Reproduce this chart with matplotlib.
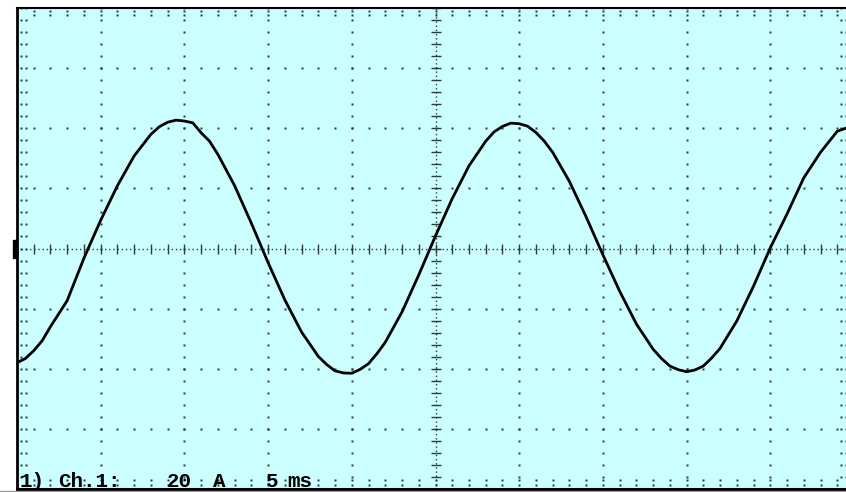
import matplotlib.pyplot as plt
import numpy as np
from matplotlib.patches import Rectangle
from matplotlib.lines import Line2D

# trace (ms, A); denser around the peaks
time_ms = [0, 0.5, 1, 1.5, 2, 3, 4, 5, 6, 7,
           8, 8.5, 9, 9.5, 10, 10.5, 11, 11.5, 12, 13,
           14, 15, 16, 17, 18, 18.5, 19, 19.5, 20, 20.5,
           21, 21.5, 22, 23, 24, 25, 26, 27, 28, 28.5,
           29, 29.5, 30, 30.5, 31, 31.5, 32, 33, 34, 35,
           36, 37, 38, 38.5, 39, 39.5, 40, 40.5, 41, 41.5,
           42, 43, 44, 45, 46, 47, 48, 49, 50]
current_a = [-38.0, -36.6, -34.0, -30.7, -26.0, -17.3, -3.2, 9.4, 20.9, 30.8,
             38.0, 40.5, 42.0, 42.7, 42.4, 41.8, 38.5, 35.7, 31.3, 20.9,
             8.4, -4.7, -17.1, -27.8, -35.9, -38.6, -40.7, -41.4, -41.5, -40.2,
             -38.3, -35.0, -31.2, -21.1, -8.8, 4.2, 16.6, 27.5, 35.7, 38.8,
             40.6, 41.7, 41.5, 40.7, 38.6, 35.7, 32.0, 22.3, 10.5, -2.1,
             -14.2, -25.1, -33.5, -36.6, -39.1, -40.3, -41.0, -40.4, -39.1, -36.4,
             -33.2, -24.1, -12.5, 0.2, 11.5, 23.5, 32.0, 39.0, 41.0]

# screen settings: 5 ms/div x 10, 20 A/div x 8
ms_per_div = 5
amp_per_div = 20
n_div_x = 10
n_div_y = 8

# status line pieces
label_parts = ["1)", "Ch.1:", "20", "A", "5", "ms"]
label_x = [0.18, 2.45, 8.96, 11.7, 14.87, 16.13]

t_max = ms_per_div * n_div_x
a_max = amp_per_div * n_div_y / 2

fig = plt.figure(figsize=(8.46, 4.92), dpi=100)
fig.patch.set_facecolor('white')
ax = fig.add_axes([17 / 846, 3 / 492, 837 / 846, 481 / 492])
ax.set_facecolor('#ccffff')
ax.set_xlim(0, t_max)
ax.set_ylim(-a_max, a_max)
ax.set_xticks([])
ax.set_yticks([])
ax.spines['left'].set_linewidth(2.0)
ax.spines['top'].set_linewidth(1.5)
ax.spines['bottom'].set_linewidth(2.2)

xs_minor = np.arange(0, t_max + 0.01, ms_per_div / 5)
ys_minor = np.arange(-a_max, a_max + 0.01, amp_per_div / 5)
dcol = '#2a3c3c'
dot = dict(ls='none', marker='s', ms=2, color=dcol, mec='none', zorder=2)

# dotted graticule
for gx in np.arange(ms_per_div, t_max, ms_per_div):
    if gx == t_max / 2:
        continue
    ax.plot(np.full_like(ys_minor, gx), ys_minor, **dot)
for gy in np.arange(-a_max + amp_per_div, a_max, amp_per_div):
    if gy == 0:
        continue
    ax.plot(xs_minor, np.full_like(xs_minor, gy), **dot)

# border ticks
for off in (0.25, 0.55):
    ax.plot(np.full_like(ys_minor, off), ys_minor, **dot)
for off in (49.2, 49.5):
    ax.plot(np.full_like(ys_minor, off), ys_minor, **dot)
for off in (1.0, 2.3):
    ax.plot(xs_minor, np.full_like(xs_minor, a_max - off), **dot)
for off in (1.3, 3.0):
    ax.plot(xs_minor, np.full_like(xs_minor, -a_max + off), **dot)

# centre cross
ax.axvline(t_max / 2, ls=(0, (1, 2)), color=dcol, lw=1, zorder=2)
ax.axhline(0, ls=(0, (1, 2)), color=dcol, lw=1, zorder=2)
ax.plot(np.full_like(ys_minor, t_max / 2), ys_minor, ls='none', marker='_',
        ms=7, mew=1, color=dcol, zorder=2)
ax.plot(xs_minor, np.zeros_like(xs_minor), ls='none', marker='|',
        ms=7, mew=1, color=dcol, zorder=2)

# channel zero marker
ax.add_patch(Rectangle((-0.25, -3), 0.25, 5.7, color='black', clip_on=False))

# trace
ax.plot(time_ms, current_a, color='black', lw=2.0, zorder=5,
        solid_joinstyle='round')

# status line
for txt, tx in zip(label_parts, label_x):
    ax.text(tx, -79.3, txt, family='Liberation Mono', fontsize=15,
            fontweight='bold', va='baseline', ha='left', color='black',
            zorder=6)

fig.add_artist(Line2D([0, 1], [1 / 492, 1 / 492], color='#999999', lw=1))

plt.savefig('out.png', dpi=100)
